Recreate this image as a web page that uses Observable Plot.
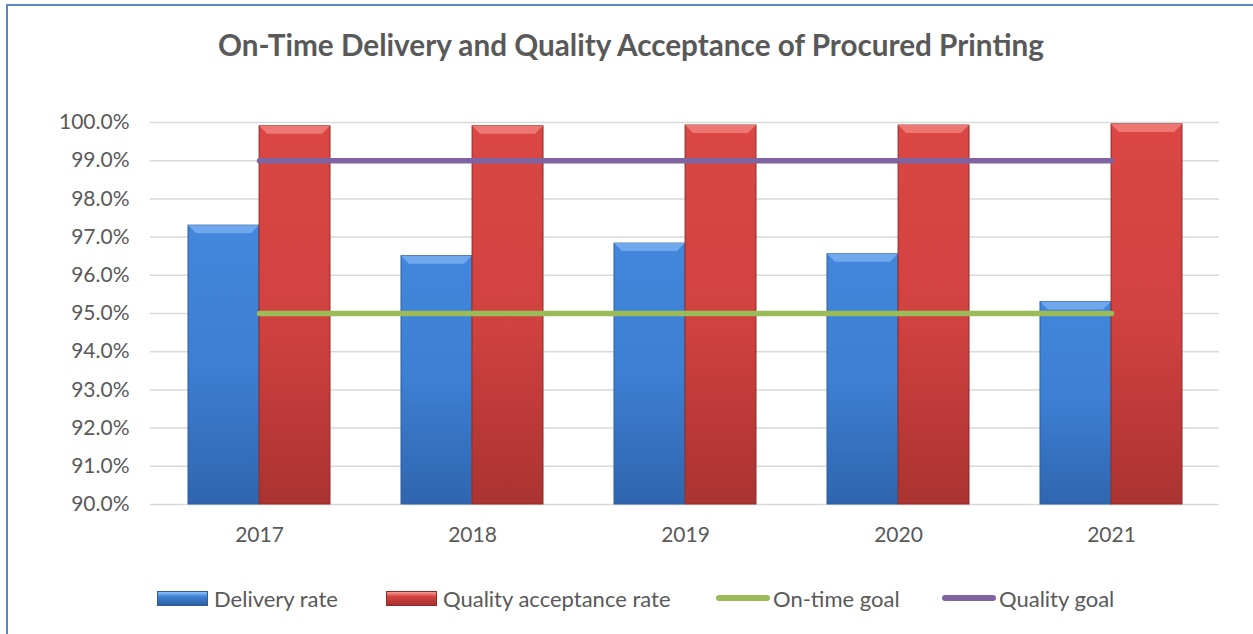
<!DOCTYPE html>
<html>
<head>
<meta charset="utf-8">
<script src="https://cdn.jsdelivr.net/npm/d3@7"></script>
<script src="https://cdn.jsdelivr.net/npm/@observablehq/plot@0.6"></script>
<style>
  body { margin: 0; background: #fff; font-family: Lato, "Open Sans", sans-serif; color: #595959; }
  #wrap { position: relative; width: 1253px; height: 634px; overflow: hidden; background: #fff; }
  #frame { position: absolute; left: 6px; top: 4px; width: 1300px; height: 700px; border: 2px solid #5B86C5; box-sizing: border-box; }
  #title { position: absolute; left: 0; width: 1262px; top: 27px; text-align: center; font-weight: bold; font-size: 29.7px; color: #595959; }
  #chart { position: absolute; left: 0; top: 80px; }
  .leg { position: absolute; top: 585px; font-size: 22px; color: #595959; display: flex; align-items: center; height: 26px; white-space: nowrap; }
  .sw { display: inline-block; width: 51px; height: 15px; margin-right: 6px; box-sizing: border-box; }
  .ln { display: inline-block; width: 54px; height: 6px; border-radius: 3px; margin-right: 3px; }
</style>
</head>
<body>
<div id="wrap">
  <div id="frame"></div>
  <div id="title">On-Time Delivery and Quality Acceptance of Procured Printing</div>
  <div id="chart"></div>
  <div id="legend"></div>
</div>
<script>
const years = ["2017", "2018", "2019", "2020", "2021"];
const deliveryRate = [97.3, 96.5, 96.83, 96.55, 95.3];
const qualityAcceptanceRate = [99.9, 99.9, 99.92, 99.92, 99.95];
const onTimeGoal = [95, 95, 95, 95, 95];
const qualityGoal = [99, 99, 99, 99, 99];
const yTicks = [90, 91, 92, 93, 94, 95, 96, 97, 98, 99, 100];
const seriesNames = ["Delivery rate", "Quality acceptance rate", "On-time goal", "Quality goal"];

const data = years.map((year, i) => ({
  year,
  delivery: deliveryRate[i],
  quality: qualityAcceptanceRate[i],
  onTime: onTimeGoal[i],
  qualGoal: qualityGoal[i]
}));

const W = 1253, mL = 150, mR = 34;
const pad = 0.335;
const half = ((W - mL - mR) / years.length) * (1 - pad) / 2;

function bevel(light) {
  return function (index, scales, values, dimensions, context, next) {
    const g = next(index, scales, values, dimensions, context);
    const ns = "http://www.w3.org/2000/svg";
    g.querySelectorAll("rect").forEach(r => {
      const x = +r.getAttribute("x"), y = +r.getAttribute("y"), w = +r.getAttribute("width");
      const b = 8;
      const p = document.createElementNS(ns, "polygon");
      p.setAttribute("points", `${x},${y} ${x + w},${y} ${x + w - b},${y + b} ${x + b},${y + b}`);
      p.setAttribute("fill", light);
      p.setAttribute("stroke", "none");
      r.after(p);
    });
    return g;
  };
}

const chart = Plot.plot({
  width: W,
  height: 474,
  marginLeft: mL,
  marginRight: mR,
  marginTop: 42,
  marginBottom: 50,
  style: { fontFamily: "Lato, 'Open Sans', sans-serif", fontSize: "21px", color: "#595959", background: "transparent" },
  x: { domain: years, paddingInner: pad, paddingOuter: pad / 2, label: null, tickSize: 0, tickPadding: 23 },
  y: { domain: [yTicks[0], yTicks[yTicks.length - 1]], ticks: yTicks, tickFormat: d => d.toFixed(1) + "%", label: null, tickSize: 0, tickPadding: 21 },
  marks: [
    Plot.gridY(yTicks, { stroke: "#D9D9D9", strokeOpacity: 1, strokeWidth: 1.5 }),
    Plot.barY(data, { x: "year", y1: yTicks[0], y2: "delivery", fill: "url(#gBlue)", stroke: "#2F5E9C", strokeWidth: 1, insetRight: half, render: bevel("#6FA8EC") }),
    Plot.barY(data, { x: "year", y1: yTicks[0], y2: "quality", fill: "url(#gRed)", stroke: "#8E2A28", strokeWidth: 1, insetLeft: half, render: bevel("#EE7774") }),
    Plot.lineY(data, { x: "year", y: "onTime", stroke: "#9BBB59", strokeWidth: 5.5, strokeLinecap: "round" }),
    Plot.lineY(data, { x: "year", y: "qualGoal", stroke: "#8064A2", strokeWidth: 5.5, strokeLinecap: "round" })
  ]
});

const defs = d3.select(chart).insert("defs", ":first-child");
function grad(id, stops) {
  const lg = defs.append("linearGradient").attr("id", id).attr("x1", 0).attr("y1", 0).attr("x2", 0).attr("y2", 1);
  stops.forEach(([o, c]) => lg.append("stop").attr("offset", o).attr("stop-color", c));
}
grad("gBlue", [[0, "#4287DC"], [0.5, "#3D7FD2"], [1, "#3065AE"]]);
grad("gRed", [[0, "#DA4744"], [0.5, "#D24240"], [1, "#AA3331"]]);

document.getElementById("chart").appendChild(chart);

const legend = document.getElementById("legend");
const legItems = [
  { name: seriesNames[0], left: 157, kind: "bar", fill: "blue" },
  { name: seriesNames[1], left: 386, kind: "bar", fill: "red" },
  { name: seriesNames[2], left: 716, kind: "line", color: "#9BBB59" },
  { name: seriesNames[3], left: 942, kind: "line", color: "#8064A2" }
];
legItems.forEach(it => {
  const d = document.createElement("div");
  d.className = "leg";
  d.style.left = it.left + "px";
  const s = document.createElement("span");
  if (it.kind === "bar") {
    s.className = "sw";
    s.style.background = it.fill === "blue"
      ? "linear-gradient(#8EC3FA 0%, #3F82D6 35%, #2F5F9E 100%)"
      : "linear-gradient(#F79A98 0%, #D6433F 35%, #A53230 100%)";
    s.style.border = "1px solid " + (it.fill === "blue" ? "#2F5E9C" : "#8E2A28");
  } else {
    s.className = "ln";
    s.style.background = it.color;
  }
  d.appendChild(s);
  d.appendChild(document.createTextNode(it.name));
  legend.appendChild(d);
});
</script>
</body>
</html>
